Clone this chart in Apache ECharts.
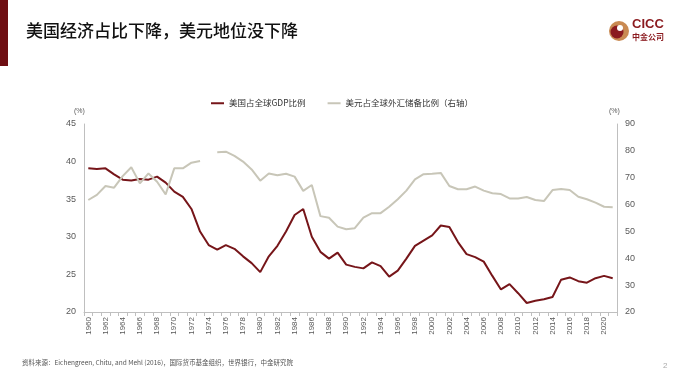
<!DOCTYPE html>
<html>
<head>
<meta charset="utf-8">
<script src="https://cdn.jsdelivr.net/npm/echarts@6/dist/echarts.min.js"></script>
<style>
html,body{margin:0;padding:0;background:#fff;}
#c{width:692px;height:389px;}
</style>
</head>
<body>
<div id="c"></div>
<script>
const years = [];
for (let y = 1960; y <= 2021; y++) years.push(String(y));

const usGdpShare = [
  39.1, 39.0, 39.1, 38.3, 37.6, 37.5, 37.7, 37.6, 38.0, 37.2,
  36.0, 35.3, 33.7, 30.7, 28.9, 28.3, 28.9, 28.4, 27.4, 26.5,
  25.3, 27.4, 28.8, 30.7, 32.9, 33.7, 30.0, 28.0, 27.1, 27.9,
  26.3, 26.0, 25.8, 26.6, 26.1, 24.7, 25.5, 27.1, 28.8, 29.5,
  30.2, 31.5, 31.3, 29.3, 27.7, 27.3, 26.7, 24.8, 23.0, 23.7,
  22.5, 21.2, 21.5, 21.7, 22.0, 24.3, 24.6, 24.1, 23.9, 24.5,
  24.8, 24.5
];

const usdReserveShare = [
  61.7, 63.6, 66.9, 66.3, 70.6, 73.9, 67.9, 71.6, 68.5, 63.8,
  73.5, 73.5, 75.6, 76.2, null, 79.5, 79.7, 78.1, 76.0, 73.1,
  68.9, 71.6, 70.9, 71.5, 70.4, 65.1, 67.3, 55.7, 55.1, 51.8,
  50.8, 51.2, 55.1, 56.8, 56.8, 59.2, 62.0, 65.2, 69.4, 71.3,
  71.5, 71.8, 66.9, 65.7, 65.7, 66.7, 65.2, 64.2, 63.9, 62.3,
  62.3, 62.8, 61.7, 61.3, 65.4, 65.8, 65.4, 62.9, 62.0, 60.7,
  59.2, 59.0
];

const leftTicks = [20, 25, 30, 35, 40, 45];
const rightTicks = [20, 30, 40, 50, 60, 70, 80, 90];
const seriesNames = ['美国占全球GDP比例', '美元占全球外汇储备比例（右轴）'];
const titleText = '美国经济占比下降，美元地位没下降';
const sourceText = '资料来源：Eichengreen, Chitu, and Mehl (2016)，国际货币基金组织，世界银行，中金研究院';

const chart = echarts.init(document.getElementById('c'), null, {renderer: 'canvas'});
const axisLabelColor = '#595959';
const axisLineColor = '#bfbfbf';
const cjk = '"Noto Sans CJK SC", "Liberation Sans", sans-serif';
const latin = '"Liberation Sans", Arial, sans-serif';

chart.setOption({
  animation: false,
  backgroundColor: '#fff',
  grid: {left: 84, right: 75, top: 124, bottom: 77, containLabel: false},
  legend: {
    top: 94, left: 206,
    itemWidth: 13, itemHeight: 2, itemGap: 22,
    icon: 'rect',
    textStyle: {fontSize: 8.5, color: '#333', fontFamily: cjk},
    data: seriesNames
  },
  xAxis: {
    type: 'category',
    data: years,
    boundaryGap: true,
    axisLine: {lineStyle: {color: axisLineColor, width: 1}},
    axisTick: {show: true, interval: 0, length: 4, lineStyle: {color: axisLineColor}},
    axisLabel: {interval: 1, rotate: 90, fontSize: 8, color: axisLabelColor, fontFamily: latin, margin: 5},
    splitLine: {show: false}
  },
  yAxis: [
    {
      type: 'value', min: leftTicks[0], max: leftTicks[leftTicks.length - 1], interval: 5,
      axisLine: {show: true, lineStyle: {color: axisLineColor}},
      axisTick: {show: false},
      axisLabel: {fontSize: 9, color: axisLabelColor, fontFamily: latin, margin: 8},
      splitLine: {show: false}
    },
    {
      type: 'value', min: rightTicks[0], max: rightTicks[rightTicks.length - 1], interval: 10,
      axisLine: {show: true, lineStyle: {color: axisLineColor}},
      axisTick: {show: false},
      axisLabel: {fontSize: 9, color: axisLabelColor, fontFamily: latin, margin: 8},
      splitLine: {show: false}
    }
  ],
  series: [
    {
      name: seriesNames[0], type: 'line', yAxisIndex: 0,
      data: usGdpShare, symbol: 'none',
      lineStyle: {color: '#761519', width: 2},
      itemStyle: {color: '#761519'}
    },
    {
      name: seriesNames[1], type: 'line', yAxisIndex: 1,
      data: usdReserveShare, symbol: 'none', connectNulls: false,
      lineStyle: {color: '#c8c6b8', width: 2},
      itemStyle: {color: '#c8c6b8'}
    }
  ],
  graphic: [
    {type: 'rect', shape: {x: 0, y: 0, width: 8, height: 66}, style: {fill: '#6e0e12'}},
    {type: 'text', left: 26, top: 22, style: {text: titleText, fontSize: 17, fontWeight: 500, fill: '#111', fontFamily: cjk}},
    {type: 'circle', shape: {cx: 619, cy: 31, r: 10}, style: {fill: '#c98a52'}},
    {type: 'circle', shape: {cx: 617, cy: 32, r: 6.5}, style: {fill: '#8b1a1f'}},
    {type: 'circle', shape: {cx: 620, cy: 28, r: 3}, style: {fill: '#ffffff'}},
    {type: 'text', left: 632, top: 18, style: {text: 'CICC', fontSize: 13, fontWeight: 'bold', fill: '#8b1a1f', fontFamily: latin}},
    {type: 'text', left: 632, top: 33, style: {text: '中金公司', fontSize: 8, fontWeight: 'bold', fill: '#8b1a1f', fontFamily: cjk}},
    {type: 'text', left: 74, top: 108, style: {text: '(%)', fontSize: 7, fill: '#595959', fontFamily: latin}},
    {type: 'text', left: 609, top: 108, style: {text: '(%)', fontSize: 7, fill: '#595959', fontFamily: latin}},
    {type: 'text', left: 22, top: 359, style: {text: sourceText, fontSize: 6.5, fill: '#555', fontFamily: cjk}},
    {type: 'text', left: 663, top: 362, style: {text: '2', fontSize: 8, fill: '#aaa', fontFamily: latin}}
  ]
});
</script>
</body>
</html>
